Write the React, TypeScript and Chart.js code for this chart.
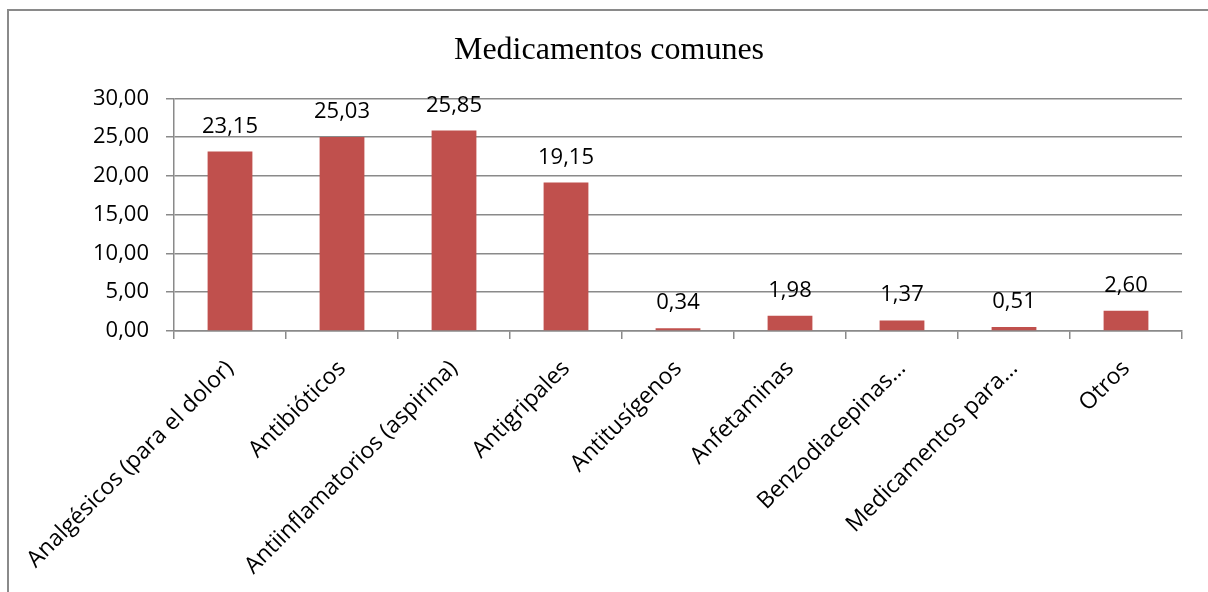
import { useEffect, useRef } from "react";
import { Chart, registerables } from "chart.js";

Chart.register(...registerables);

const chartTitle = "Medicamentos comunes";
const categories = [
  "Analgésicos (para el dolor)",
  "Antibióticos",
  "Antiinflamatorios (aspirina)",
  "Antigripales",
  "Antitusígenos",
  "Anfetaminas",
  "Benzodiacepinas…",
  "Medicamentos para…",
  "Otros",
];
const values = [23.15, 25.03, 25.85, 19.15, 0.34, 1.98, 1.37, 0.51, 2.6];
const yTickValues = [0, 5, 10, 15, 20, 25, 30];

const fmt = (v: number) => Number(v).toFixed(2).replace(".", ",");

const GRAY = "#8a8a8a";
const SANS = "'Open Sans', 'DejaVu Sans', sans-serif";
const SERIF = "'Liberation Serif', 'Times New Roman', serif";

export default function App() {
  const ref = useRef<HTMLCanvasElement>(null);

  useEffect(() => {
    const valueLabels = {
      id: "valueLabels",
      afterDatasetsDraw(chart: any) {
        const ctx = chart.ctx;
        const meta = chart.getDatasetMeta(0);
        ctx.save();
        ctx.font = `22px ${SANS}`;
        ctx.fillStyle = "#000";
        ctx.textAlign = "center";
        ctx.textBaseline = "alphabetic";
        meta.data.forEach((el: any, i: number) => {
          ctx.fillText(fmt(values[i]), el.x, el.y - 19);
        });
        ctx.restore();
      },
    };

    const chart = new Chart(ref.current as HTMLCanvasElement, {
      type: "bar",
      data: {
        labels: categories,
        datasets: [
          {
            data: values,
            backgroundColor: "#C0504D",
            barPercentage: 0.4,
            categoryPercentage: 1,
          },
        ],
      },
      options: {
        animation: false,
        responsive: false,
        layout: { padding: { left: 36, right: 26, top: 0, bottom: 0 } },
        plugins: {
          legend: { display: false },
          tooltip: { enabled: false },
          title: {
            display: true,
            text: chartTitle,
            color: "#000",
            font: { family: SERIF, size: 32, weight: "normal" },
            padding: { top: 31, bottom: 29 },
          },
        },
        scales: {
          x: {
            grid: {
              drawOnChartArea: false,
              drawTicks: true,
              tickLength: 8,
              color: GRAY,
              lineWidth: 1.5,
            },
            border: { display: true, color: GRAY, width: 1.5 },
            ticks: {
              autoSkip: false,
              maxRotation: 45,
              minRotation: 45,
              color: "#000",
              padding: 16,
              font: { family: SANS, size: 23 },
            },
            afterFit: (s: any) => {
              s.height = 261;
            },
          },
          y: {
            min: 0,
            max: 30,
            afterBuildTicks: (s: any) => {
              s.ticks = yTickValues.map((v) => ({ value: v }));
            },
            ticks: {
              color: "#000",
              padding: 17,
              font: { family: SANS, size: 22 },
              callback: (v: any) => fmt(v),
            },
            grid: {
              color: GRAY,
              lineWidth: 1.5,
              drawTicks: true,
              tickLength: 8,
            },
            border: { display: true, color: GRAY, width: 1.5 },
            afterFit: (s: any) => {
              s.width = 138;
            },
          },
        },
      },
      plugins: [valueLabels],
    });
    return () => chart.destroy();
  }, []);

  return (
    <div>
      <div
        style={{
          position: "fixed",
          left: 7,
          top: 9,
          width: 1400,
          height: 800,
          border: "2px solid #8a8a8a",
          background: "#fff",
        }}
      />
      <canvas
        ref={ref}
        width={1208}
        height={592}
        style={{ position: "fixed", left: 0, top: 0, width: 1208, height: 592 }}
      />
    </div>
  );
}
